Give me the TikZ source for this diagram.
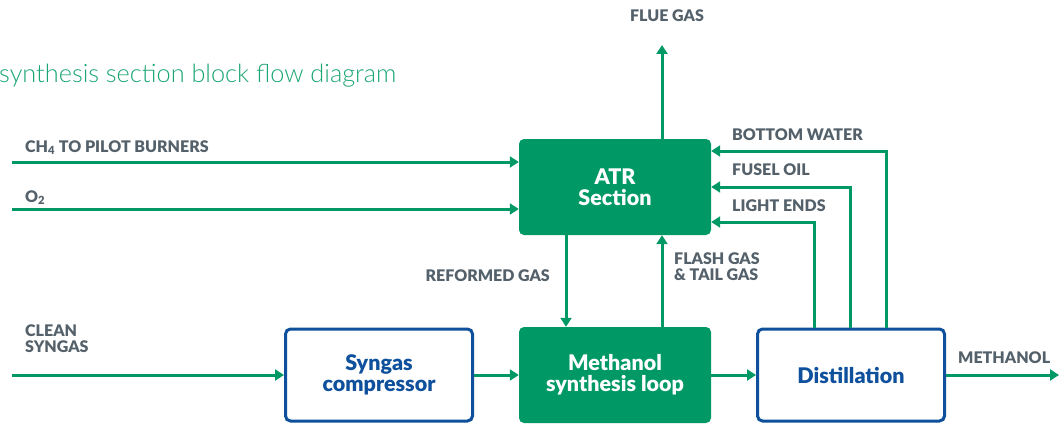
\documentclass[tikz,border=0pt]{standalone}
\usepackage{fontspec}
\setmainfont{Lato}[BoldFont={Lato Black}]
\newfontfamily\titlefont{Lato Light}
\usepackage{tikz}
\usetikzlibrary{arrows.meta, positioning}
\definecolor{flowgreen}{RGB}{0,153,102}
\definecolor{flowblue}{RGB}{14,80,156}
\definecolor{labelgray}{RGB}{84,97,106}
\definecolor{titlegreen}{RGB}{26,166,114}
\tikzstyle{greenbox} = [rectangle, rounded corners=5pt, minimum width=192pt, minimum height=96pt, text centered, align=center, fill=flowgreen, text=white, font=\fontsize{21.5}{21}\selectfont\bfseries]
\tikzstyle{bluebox} = [rectangle, rounded corners=5pt, minimum width=187pt, minimum height=92pt, text centered, align=center, line width=3pt, draw=flowblue, fill=white, text=flowblue, font=\fontsize{21.5}{21}\selectfont\bfseries]
\tikzstyle{tag} = [inner sep=0pt, align=left, text=labelgray, font=\fontsize{16}{16}\selectfont\bfseries]
\tikzstyle{arrow} = [line width=3pt, draw=flowgreen, -{Triangle[length=9pt,width=11pt]}]

\begin{document}
\begin{tikzpicture}[x=1pt, y=-1pt, node distance=236pt]
\useasboundingbox (0,0) rectangle (1059,425);

\node (title) [anchor=base west, inner sep=0pt, text=titlegreen, font=\fontsize{25.3}{26}\titlefont] at (-1,83) {synthesis section block flow diagram};

\node (loop) [greenbox] at (615,375) {Methanol\\synthesis loop};
\node (comp) [bluebox, left of=loop] {Syngas\\compressor};
\node (dist) [bluebox, right of=loop] {Distillation};
\node (atr) [greenbox, above of=loop, node distance=188pt] {ATR\\Section};

\coordinate (ch4) at (12,162);
\coordinate (o2) at (12,209);
\coordinate (syn) at (12,375);
\coordinate (meoh) at (1059,375);
\coordinate (flue) at (662,45);

\draw [arrow] (ch4) -- (ch4 -| atr.west);
\draw [arrow] (o2) -- (o2 -| atr.west);
\draw [arrow] (syn) -- (comp);
\draw [arrow] (comp) -- (loop);
\draw [arrow] (loop) -- (dist);
\draw [arrow] (dist) -- (meoh);
\draw [arrow] ([xshift=47pt]atr.north) -- (flue);
\draw [arrow] ([xshift=-49pt]atr.south) -- ([xshift=-49pt]loop.north);
\draw [arrow] ([xshift=47pt]loop.north) -- ([xshift=47pt]atr.south);
\draw [arrow] ([xshift=35pt]dist.north) |- ([yshift=36pt]atr.east);
\draw [arrow] ([xshift=-1pt]dist.north) |- (atr.east);
\draw [arrow] ([xshift=-37pt]dist.north) |- ([yshift=-35pt]atr.east);

% stream labels
\node (ch4lbl) [tag, anchor=base west] at (25,152) {CH\textsubscript{4} TO PILOT BURNERS};
\node (o2lbl) [tag, anchor=base west] at (25,202) {O\textsubscript{2}};
\node (synlbl) [tag, anchor=base west] at (25,352) {CLEAN\\SYNGAS};
\node (fluelbl) [tag, anchor=base] at (667,22) {FLUE GAS};
\node (bwlbl) [tag, anchor=base west] at (732,140) {BOTTOM WATER};
\node (fuslbl) [tag, anchor=base west] at (732,175) {FUSEL OIL};
\node (lelbl) [tag, anchor=base west] at (732,211) {LIGHT ENDS};
\node (reflbl) [tag, anchor=base east] at (550,281) {REFORMED GAS};
\node (flashlbl) [tag, anchor=base west] at (674,280) {FLASH GAS\\\& TAIL GAS};
\node (meohlbl) [tag, anchor=base west] at (958,363) {METHANOL};

\end{tikzpicture}
\end{document}
